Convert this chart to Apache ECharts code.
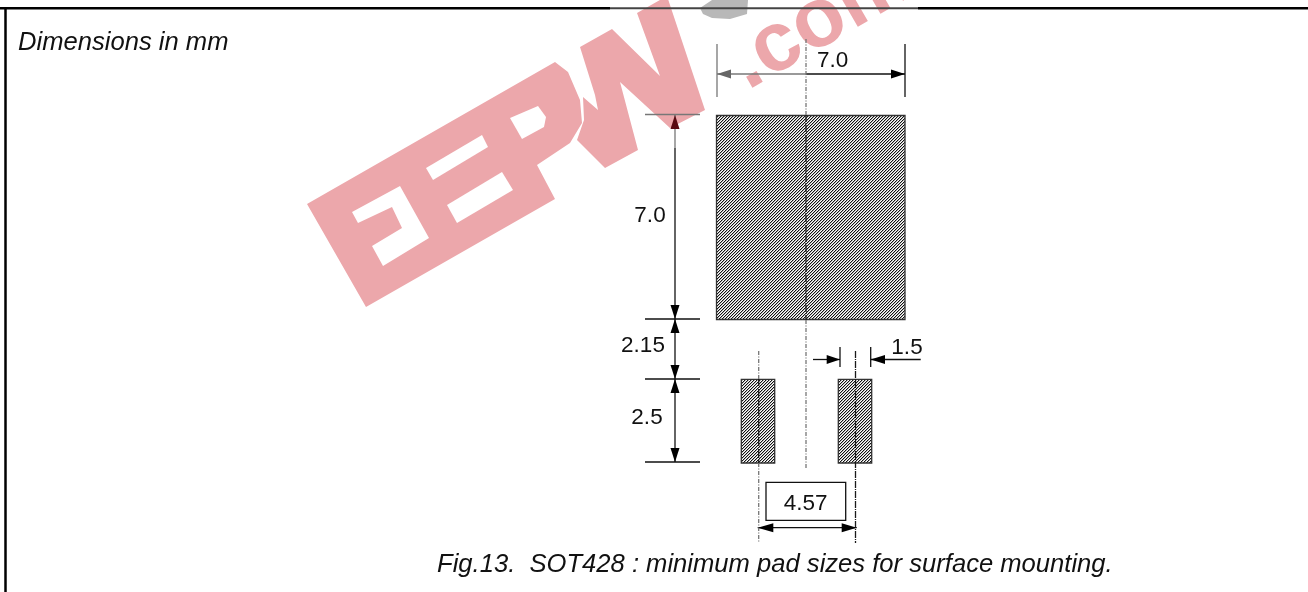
<!DOCTYPE html>
<html><head><meta charset="utf-8">
<style>html,body{margin:0;padding:0;background:#fff}#c{width:1308px;height:592px}</style>
<script src="https://cdn.jsdelivr.net/npm/echarts@6/dist/echarts.min.js"></script>
</head><body><div id="c"></div>
<script>
// Drawing geometry, in the units of the page-sized value axes.
const pads = [[716.5,115.5,905,319.5],[741.3,379.3,774.7,463],[838.3,379.3,871.7,463]];
const frameLines = [[0,8.3,610,8.3],[918,8.3,1308,8.3],[5.5,8,5.5,592]];
const fadedFrameLines = [[610,8.3,918,8.3]];
const solidLines = [
 [806,74,905,74],[905,44,905,97],
 [675,148,675,319],[645,319,700,319],[675,319,675,379],[645,379,700,379],[675,379,675,462],[645,462,700,462],
 [813,359.5,840,359.5],[870.7,359.5,920.7,359.5],[840,347,840,367],[870.7,347,870.7,367],
 [757.7,527.7,856.7,527.7]
];
const fadedLines = [[717,74,806,74],[717,44,717,97],[675,115,675,148],[645,114.5,700,114.5]];
const paleCenterLines = [[806,39,806,115],[806,320,806,469],[758.7,351,758.7,379],[758.7,463,758.7,543]];
const darkCenterLines = [[806,115,806,319.5],[758.7,379,758.7,463],[855.5,351,855.5,543]];
const arrows = [
 [717,74,731,74],[905,74,891,74],[675,115,675,129],[675,319,675,305],[675,319,675,333],[675,379,675,365],
 [675,379,675,393],[675,462,675,448],[840,359.5,826.7,359.5],[870.7,359.5,885,359.5],[757.7,527.7,773.3,527.7],[856.7,527.7,841.7,527.7]
];
const boxes = [[766,482.3,845.7,520.3]];
const dimensionLabels = [
 ['7.0',832.7,61],['7.0',650,216],['2.15',643,346],['2.5',647,418],['1.5',907,348],['4.57',805.7,504]
];
const notes = [['Dimensions in mm',18,43],['Fig.13.  SOT428 : minimum pad sizes for surface mounting.',437,565]];
const watermarkBody = [
 [[307,204],[555,62],[568,72],[580,100],[582,123],[570,143],[537,165],[555,199],[366,307]],
 [[580,47],[612,29],[660,76],[637,13],[667,-4],[705,110],[670,128],[620,82],[638,150],[605,168],[577,140],[584,120],[583,97],[598,110],[595,95]]
];
const watermarkHoles = [
 [[510,118],[538,106],[546,117],[544,127],[522,139]],
 [[426,168],[482,135],[488,147],[433,180]],
 [[447,205],[502,172],[513,190],[457,223]],
 [[352,212],[400,186],[429,238],[383,266],[372,246],[402,228],[392,207],[358,223]]
];
const watermarkWord = ['.com',715,34];
const sealBlob = [[700,8],[712,0],[748,0],[747,14],[730,19],[712,18],[703,14]];

const tile = document.createElement('canvas');
tile.width = tile.height = 3;
(function(){
  const g = tile.getContext('2d');
  g.fillStyle = '#ffffff'; g.fillRect(0,0,3,3);
  for (let i=0;i<3;i++){
    g.fillStyle = '#111111'; g.fillRect((2-i+3)%3,i,1,1);
    g.fillStyle = '#b4b4b4'; g.fillRect((3-i)%3,i,1,1);
  }
})();
const chart = echarts.init(document.getElementById('c'),null,{renderer:'canvas'});

function lineSeries(list,color,width,dash,z){
  return {type:'custom',coordinateSystem:'cartesian2d',z,silent:true,clip:false,data:list,
    renderItem(p,api){
      const a=api.coord([api.value(0),api.value(1)]),b=api.coord([api.value(2),api.value(3)]);
      return {type:'line',shape:{x1:a[0],y1:a[1],x2:b[0],y2:b[1]},style:{stroke:color,lineWidth:width,lineDash:dash||null}};
    }};
}
function polySeries(list,color,z){
  return {type:'custom',coordinateSystem:'cartesian2d',z,silent:true,clip:false,data:list.map((_,i)=>[i]),
    renderItem(p,api){
      const pts=list[api.value(0)].map(q=>api.coord(q));
      return {type:'polygon',shape:{points:pts},style:{fill:color}};
    }};
}
function rectSeries(list,fill,stroke,z){
  return {type:'custom',coordinateSystem:'cartesian2d',z,silent:true,clip:false,data:list,
    renderItem(p,api){
      const a=api.coord([api.value(0),api.value(1)]),b=api.coord([api.value(2),api.value(3)]);
      return {type:'rect',shape:{x:a[0],y:a[1],width:b[0]-a[0],height:b[1]-a[1]},style:{fill,stroke,lineWidth:1.3}};
    }};
}
function textSeries(list,font,align,z){
  return {type:'custom',coordinateSystem:'cartesian2d',z,silent:true,clip:false,data:list.map(r=>[r[1],r[2],r[0]]),
    renderItem(p,api){
      const a=api.coord([api.value(0),api.value(1)]);
      return {type:'text',x:a[0],y:a[1],style:{text:list[p.dataIndex][0],font,fill:'#111',align,verticalAlign:'middle'}};
    }};
}
const arrowSeries = {type:'custom',coordinateSystem:'cartesian2d',z:7,silent:true,clip:false,data:arrows,
  renderItem(p,api){
    const t=api.coord([api.value(0),api.value(1)]),b=api.coord([api.value(2),api.value(3)]);
    const dx=b[0]-t[0],dy=b[1]-t[1],l=Math.hypot(dx,dy),nx=-dy/l*4.5,ny=dx/l*4.5;
    const i=p.dataIndex;
    const fill=i===0?'#666':i===2?'#5a0a12':'#000';
    return {type:'polygon',shape:{points:[t,[b[0]+nx,b[1]+ny],[b[0]-nx,b[1]-ny]]},style:{fill}};
  }};
const wordSeries = {type:'custom',coordinateSystem:'cartesian2d',z:2,silent:true,clip:false,data:[[watermarkWord[1],watermarkWord[2]]],
  renderItem(p,api){
    const a=api.coord([api.value(0),api.value(1)]);
    return {type:'text',x:a[0],y:a[1],rotation:Math.PI/6,originX:0,originY:0,
      style:{text:watermarkWord[0],font:'bold 84px "Liberation Sans"',fill:'#eca7ab',align:'left',verticalAlign:'alphabetic'}};
  }};
chart.setOption({
  animation:false,
  grid:{left:0,right:0,top:0,bottom:0,containLabel:false},
  xAxis:{type:'value',min:0,max:1308,show:false},
  yAxis:{type:'value',min:0,max:592,inverse:true,show:false},
  series:[
    polySeries(watermarkBody,'#eca7ab',1),
    polySeries(watermarkHoles,'#ffffff',2),
    polySeries([sealBlob],'#b8b8b8',2),
    wordSeries,
    rectSeries(pads,{image:tile,repeat:'repeat'},'#333',4),
    rectSeries(boxes,'#fff','#111',4),
    lineSeries(frameLines,'#000',2.5,null,5),
    lineSeries(fadedFrameLines,'#444',2,null,5),
    lineSeries(solidLines,'#111',1.3,null,5),
    lineSeries(fadedLines,'#777',1.3,null,5),
    lineSeries(paleCenterLines,'#777',1.3,[4,1.5,1,1.5],6),
    lineSeries(darkCenterLines,'#1a1a1a',1.3,[7,1,1,1],6),
    arrowSeries,
    textSeries(dimensionLabels,'22.5px "Liberation Sans"','center',8),
    textSeries(notes,'italic 25.6px "Liberation Sans"','left',8)
  ]
});
</script></body></html>
